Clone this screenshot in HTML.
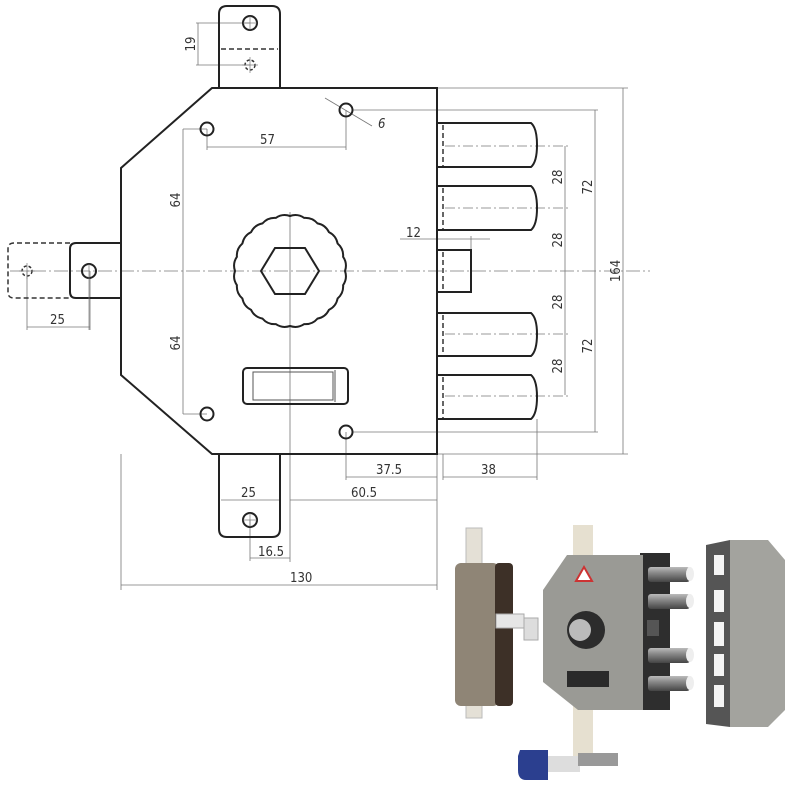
<!DOCTYPE html>
<html><head><meta charset="utf-8"><style>
html,body{margin:0;padding:0;background:#fff;}
svg{display:block}
text{font-family:"DejaVu Sans Condensed","Liberation Sans Narrow","Liberation Sans",sans-serif;font-size:13px;fill:#333}
</style></head><body>
<svg width="800" height="800" viewBox="0 0 800 800" xmlns="http://www.w3.org/2000/svg">
<defs>
<linearGradient id="bolt" x1="0" y1="0" x2="0" y2="1"><stop offset="0" stop-color="#bbb"/><stop offset="0.4" stop-color="#888"/><stop offset="1" stop-color="#444"/></linearGradient>
</defs>
<g stroke="#777" stroke-width="0.8" fill="none">
<line x1="10" y1="271" x2="650" y2="271" stroke-dasharray="14,3,2,3"/>
<line x1="290" y1="212" x2="290" y2="562"/>
<line x1="437" y1="88" x2="628" y2="88"/>
<line x1="352" y1="110" x2="598" y2="110"/>
<line x1="437" y1="454" x2="628" y2="454"/>
<line x1="352" y1="432" x2="598" y2="432"/>
<line x1="623" y1="88" x2="623" y2="454"/>
<line x1="595" y1="110" x2="595" y2="432"/>
<line x1="565" y1="146" x2="565" y2="395"/>
<g stroke-dasharray="10,3,2,3">
<line x1="445" y1="146" x2="568" y2="146"/>
<line x1="445" y1="208" x2="568" y2="208"/>
<line x1="445" y1="334" x2="568" y2="334"/>
<line x1="445" y1="396" x2="568" y2="396"/>
</g>
<line x1="400" y1="239" x2="490" y2="239"/>
<line x1="471" y1="236" x2="471" y2="250"/>
<line x1="437" y1="232" x2="437" y2="250"/>
<line x1="207" y1="129" x2="207" y2="150"/>
<line x1="346" y1="110" x2="346" y2="150"/>
<line x1="207" y1="147" x2="346" y2="147"/>
<line x1="325" y1="98" x2="372" y2="126"/>
<line x1="183" y1="129" x2="207" y2="129"/>
<line x1="183" y1="414" x2="207" y2="414"/>
<line x1="183" y1="129" x2="183" y2="414"/>
<line x1="196" y1="23" x2="250" y2="23"/>
<line x1="196" y1="65" x2="250" y2="65"/>
<line x1="198" y1="23" x2="198" y2="65"/>
<line x1="27" y1="271" x2="27" y2="330"/>
<line x1="90" y1="271" x2="90" y2="330"/>
<line x1="27" y1="327" x2="90" y2="327"/>
<line x1="346" y1="432" x2="346" y2="480"/>
<line x1="437" y1="454" x2="437" y2="590"/>
<line x1="443" y1="454" x2="443" y2="480"/>
<line x1="537" y1="419" x2="537" y2="480"/>
<line x1="346" y1="477" x2="437" y2="477"/>
<line x1="443" y1="477" x2="537" y2="477"/>
<line x1="290" y1="500" x2="437" y2="500"/>
<line x1="221" y1="500" x2="280" y2="500"/>
<line x1="250" y1="520" x2="250" y2="561"/>
<line x1="250" y1="558" x2="290" y2="558"/>
<line x1="121" y1="454" x2="121" y2="590"/>
<line x1="121" y1="585" x2="437" y2="585"/>
</g>
<text x="260" y="144">57</text>
<text x="378" y="128" font-style="italic">6</text>
<text x="406" y="237">12</text>
<text transform="translate(180,200) rotate(-90)" text-anchor="middle">64</text>
<text transform="translate(180,343) rotate(-90)" text-anchor="middle">64</text>
<text transform="translate(195,44) rotate(-90)" text-anchor="middle">19</text>
<text x="50" y="324">25</text>
<text transform="translate(562,177) rotate(-90)" text-anchor="middle">28</text>
<text transform="translate(562,240) rotate(-90)" text-anchor="middle">28</text>
<text transform="translate(562,302) rotate(-90)" text-anchor="middle">28</text>
<text transform="translate(562,366) rotate(-90)" text-anchor="middle">28</text>
<text transform="translate(592,187) rotate(-90)" text-anchor="middle">72</text>
<text transform="translate(592,346) rotate(-90)" text-anchor="middle">72</text>
<text transform="translate(620,271) rotate(-90)" text-anchor="middle">164</text>
<text x="376" y="474">37.5</text>
<text x="481" y="474">38</text>
<text x="351" y="497">60.5</text>
<text x="241" y="497">25</text>
<text x="258" y="556">16.5</text>
<text x="290" y="582">130</text>
<g stroke="#222" stroke-width="2" fill="none">
<path d="M219,88 V14 Q219,6 227,6 H272 Q280,6 280,14 V88"/>
<path d="M219,454 V529 Q219,537 227,537 H272 Q280,537 280,529 V454"/>
<path d="M121,243 H76 Q70,243 70,249 V292 Q70,298 76,298 H121"/>
<path d="M212,88 H437 V454 H212 L121,375 V168 Z"/>
<circle cx="250" cy="23" r="7"/>
<circle cx="250" cy="520" r="7"/>
<circle cx="89" cy="271" r="7"/>
<circle cx="207" cy="129" r="6.5"/>
<circle cx="346" cy="110" r="6.5"/>
<circle cx="207" cy="414" r="6.5"/>
<circle cx="346" cy="432" r="6.5"/>
<path d="M261,271 L275,248 H305 L319,271 L305,294 H275 Z"/>
<path d="M345,271 A16,16 0 0,1 343.1,285.2 A16,16 0 0,1 337.6,298.5 A16,16 0 0,1 328.9,309.9 A16,16 0 0,1 317.5,318.6 A16,16 0 0,1 304.2,324.1 A16,16 0 0,1 290,326 A16,16 0 0,1 275.8,324.1 A16,16 0 0,1 262.5,318.6 A16,16 0 0,1 251.1,309.9 A16,16 0 0,1 242.4,298.5 A16,16 0 0,1 236.9,285.2 A16,16 0 0,1 235,271 A16,16 0 0,1 236.9,256.8 A16,16 0 0,1 242.4,243.5 A16,16 0 0,1 251.1,232.1 A16,16 0 0,1 262.5,223.4 A16,16 0 0,1 275.8,217.9 A16,16 0 0,1 290,216 A16,16 0 0,1 304.2,217.9 A16,16 0 0,1 317.5,223.4 A16,16 0 0,1 328.9,232.1 A16,16 0 0,1 337.6,243.5 A16,16 0 0,1 343.1,256.8 A16,16 0 0,1 345,271 Z"/>
<rect x="243" y="368" width="105" height="36" rx="4"/>
<path d="M437,123 H531 Q537,128 537,145 Q537,162 531,167 H437"/>
<path d="M437,186 H531 Q537,191 537,208 Q537,225 531,230 H437"/>
<path d="M437,313 H531 Q537,318 537,334 Q537,351 531,356 H437"/>
<path d="M437,375 H531 Q537,380 537,397 Q537,414 531,419 H437"/>
<rect x="437" y="250" width="34" height="42"/>
</g>
<g stroke="#555" stroke-width="1" fill="none">
<rect x="253" y="372" width="80" height="28"/>
<line x1="335" y1="370" x2="335" y2="402"/>
</g>
<g stroke="#333" stroke-width="1.5" fill="none" stroke-dasharray="5,3">
<line x1="221" y1="49" x2="278" y2="49"/>
<path d="M70,243 H14 Q8,243 8,249 V292 Q8,298 14,298 H70"/>
<line x1="443" y1="125" x2="443" y2="166"/>
<line x1="443" y1="188" x2="443" y2="229"/>
<line x1="443" y1="252" x2="443" y2="291"/>
<line x1="443" y1="315" x2="443" y2="355"/>
<line x1="443" y1="377" x2="443" y2="418"/>
<circle cx="250" cy="65" r="5" stroke-dasharray="3,2"/>
<circle cx="27" cy="271" r="5" stroke-dasharray="3,2"/>
</g>
<g stroke="#777" stroke-width="0.7">
<line x1="250" y1="16" x2="250" y2="30"/><line x1="243" y1="23" x2="257" y2="23"/>
<line x1="250" y1="57" x2="250" y2="73"/><line x1="242" y1="65" x2="258" y2="65"/>
<line x1="27" y1="263" x2="27" y2="279"/><line x1="19" y1="271" x2="35" y2="271"/>
<line x1="89" y1="264" x2="89" y2="330"/>
<line x1="250" y1="513" x2="250" y2="527"/><line x1="243" y1="520" x2="257" y2="520"/>
</g>

<rect x="466" y="528" width="16" height="190" fill="#e4e0d6" stroke="#bbb"/>
<rect x="455" y="563" width="44" height="143" rx="6" fill="#8f8576"/>
<rect x="495" y="563" width="18" height="143" rx="4" fill="#3d3027"/>
<rect x="496" y="614" width="28" height="14" fill="#e6e6e6" stroke="#aaa"/>
<rect x="524" y="618" width="14" height="22" fill="#ddd" stroke="#aaa"/>
<rect x="573" y="525" width="20" height="235" fill="#e6e0d0"/>
<rect x="640" y="553" width="30" height="157" fill="#2e2e2e"/>
<path d="M567,555 H643 V710 H578 L543,682 V590 Z" fill="#9a9a95"/>
<path d="M584,567 L592,581 H576 Z" fill="#fff" stroke="#c33" stroke-width="2"/>
<circle cx="586" cy="630" r="19" fill="#2c2c2c"/>
<circle cx="580" cy="630" r="11" fill="#bbb"/>
<rect x="567" y="671" width="42" height="16" fill="#2a2a2a"/>
<g fill="url(#bolt)">
<rect x="648" y="567" width="42" height="15" rx="3"/>
<rect x="648" y="594" width="42" height="15" rx="3"/>
<rect x="648" y="648" width="42" height="15" rx="3"/>
<rect x="648" y="676" width="42" height="15" rx="3"/>
</g>
<g fill="#eee"><ellipse cx="690" cy="574" rx="4" ry="7"/><ellipse cx="690" cy="601" rx="4" ry="7"/><ellipse cx="690" cy="655" rx="4" ry="7"/><ellipse cx="690" cy="683" rx="4" ry="7"/></g>
<rect x="647" y="620" width="12" height="16" fill="#555"/>
<path d="M706,545 L730,540 V727 L706,724 Z" fill="#555"/>
<path d="M730,540 H768 L785,560 V710 L768,727 H730 Z" fill="#a3a39e"/>
<g fill="#f4f4f4"><rect x="714" y="555" width="10" height="20"/><rect x="714" y="590" width="10" height="22"/><rect x="714" y="622" width="10" height="24"/><rect x="714" y="654" width="10" height="22"/><rect x="714" y="685" width="10" height="22"/></g>
<path d="M520,750 H548 V780 H526 Q518,780 518,770 V756 Z" fill="#2b3f8f"/>
<rect x="548" y="756" width="32" height="16" fill="#ddd"/>
<rect x="578" y="753" width="40" height="13" fill="#999"/>
</svg>
</body></html>
